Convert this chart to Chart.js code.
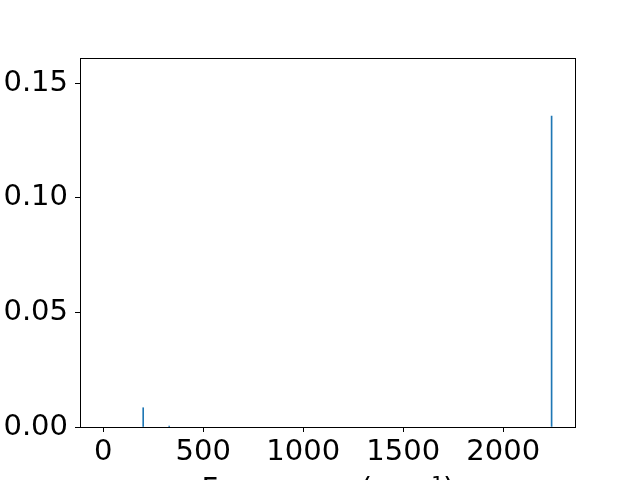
<!DOCTYPE html>
<html>
<head>
<meta charset="utf-8">
<script src="https://cdn.jsdelivr.net/npm/chart.js@4/dist/chart.umd.min.js"></script>
<style>
    html, body { margin: 0; padding: 0; background: #fff; overflow: hidden; }
    #wrap { width: 640px; height: 508px; }
</style>
</head>
<body>
<div id="wrap"><canvas id="spectrum" width="640" height="508"></canvas></div>
<script>
// data
const frequencies = [200, 330, 2242];
const intensities = [0.0084, 0.0004, 0.1357];

const xTicks = [0, 500, 1000, 1500, 2000];
const yTicks = [0, 0.05, 0.10, 0.15];

const font = { family: 'DejaVu Sans', size: 29 };

// draw the box around the plot area like matplotlib
const frame = {
    id: 'frame',
    afterDraw(chart) {
        const { ctx, chartArea: a } = chart;
        ctx.save();
        ctx.strokeStyle = '#000';
        ctx.lineWidth = 1;
        ctx.strokeRect(a.left + 0.5, a.top + 0.5, a.right - a.left - 1, a.bottom - a.top);
        ctx.restore();
    }
};

new Chart(document.getElementById('spectrum'), {
    type: 'bar',
    data: {
        datasets: [{
            data: frequencies.map((f, i) => ({ x: f, y: intensities[i] })),
            backgroundColor: '#1f77b4',
            borderWidth: 0,
            barThickness: 1
        }]
    },
    options: {
        responsive: false,
        animation: false,
        events: [],
        layout: { padding: { top: 58, right: 64, left: 0, bottom: 0 } },
        plugins: { legend: { display: false }, tooltip: { enabled: false } },
        scales: {
            x: {
                type: 'linear',
                min: -116,
                max: 2364,
                offset: false,
                afterBuildTicks: s => { s.ticks = xTicks.map(v => ({ value: v })); },
                afterFit: s => { s.height = 81; },
                ticks: { color: '#000', font, padding: 3, maxRotation: 0, callback: v => String(v) },
                grid: { display: true, offset: false, drawOnChartArea: false, drawTicks: true, tickLength: 5, color: '#000' },
                border: { display: false },
                title: {
                    display: true,
                    text: 'Frequency (cm\u207B\u00B9)',
                    color: '#000',
                    font,
                    padding: 0
                }
            },
            y: {
                min: 0,
                max: 0.161,
                afterBuildTicks: s => { s.ticks = yTicks.map(v => ({ value: v })); },
                afterFit: s => { s.width = 80; },
                ticks: { color: '#000', font, padding: 7, callback: v => v.toFixed(2) },
                grid: { display: true, drawOnChartArea: false, drawTicks: true, tickLength: 5, color: '#000' },
                border: { display: false }
            }
        }
    },
    plugins: [frame]
});
</script>
</body>
</html>
